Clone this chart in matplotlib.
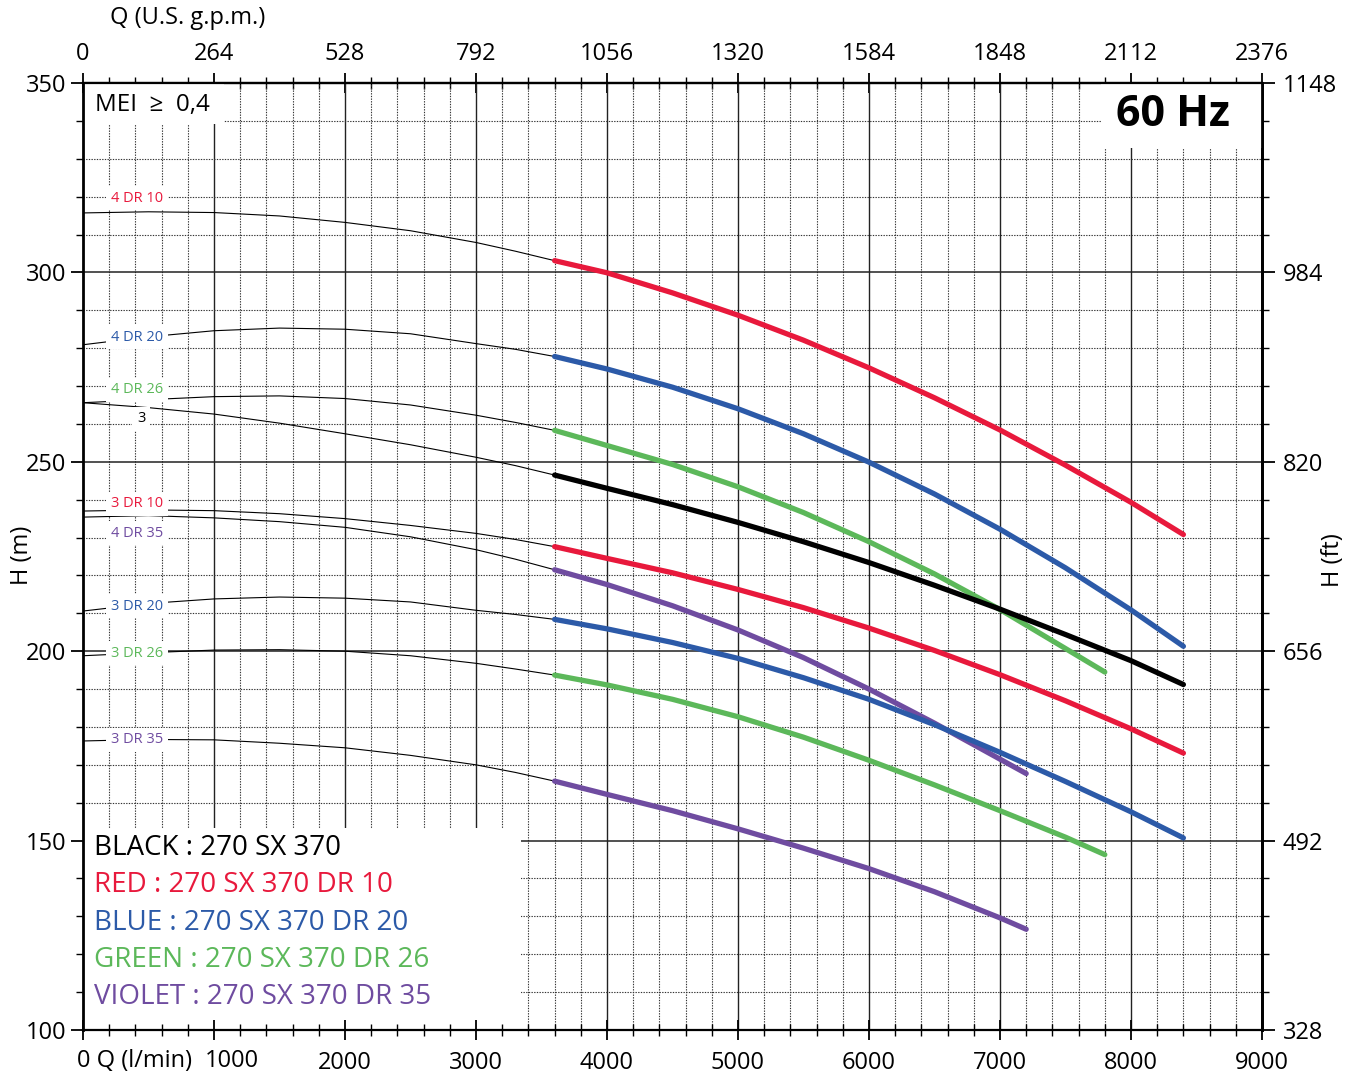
import numpy as np
import matplotlib.pyplot as plt
from matplotlib.ticker import MultipleLocator
from matplotlib.patches import Rectangle

plt.rcParams['font.family'] = ['Open Sans', 'DejaVu Sans']

# flow in l/min, head in m
q_thin = [0, 500, 1000, 1500, 2000, 2500, 3000, 3300, 3600]
q_end_8400 = [3600, 4000, 4500, 5000, 5500, 6000, 6500, 7000, 7500, 8000, 8400]
q_end_7800 = [3600, 4000, 4500, 5000, 5500, 6000, 6500, 7000, 7500, 7800]
q_end_7200 = [3600, 4000, 4500, 5000, 5500, 6000, 6500, 7000, 7200]

h_4dr10_thin = [315.7, 316.0, 315.8, 314.9, 313.2, 311.0, 307.9, 305.6, 303.1]
h_4dr10 = [303.1, 299.9, 294.6, 288.7, 282.1, 274.8, 266.9, 258.4, 249.1, 239.3, 230.8]
h_4dr20_thin = [280.9, 283.0, 284.6, 285.3, 285.0, 283.8, 281.2, 279.7, 277.8]
h_4dr20 = [277.8, 274.5, 269.7, 264.0, 257.4, 249.9, 241.5, 232.2, 222.0, 210.9, 201.3]
h_4dr26_thin = [265.6, 266.4, 267.2, 267.4, 266.7, 265.0, 262.3, 260.4, 258.3]
h_4dr26 = [258.3, 254.3, 249.3, 243.4, 236.6, 228.9, 220.4, 211.0, 200.7, 194.5]
h_3_thin = [265.6, 264.3, 262.6, 260.2, 257.4, 254.5, 251.2, 249.0, 246.5]
h_3 = [246.5, 243.0, 238.7, 234.0, 228.9, 223.4, 217.4, 211.1, 204.4, 197.5, 191.2]
h_3dr10_thin = [237.0, 237.3, 237.1, 236.3, 235.0, 233.2, 231.1, 229.5, 227.6]
h_3dr10 = [227.6, 224.5, 220.7, 216.3, 211.5, 206.1, 200.2, 193.8, 186.9, 179.5, 173.1]
h_4dr35_thin = [235.4, 235.8, 235.2, 234.2, 232.7, 230.2, 226.8, 224.3, 221.5]
h_4dr35 = [221.5, 217.6, 212.0, 205.6, 198.3, 190.0, 181.0, 171.5, 167.7]
h_3dr20_thin = [210.6, 212.6, 213.8, 214.3, 214.0, 213.0, 210.8, 209.7, 208.4]
h_3dr20 = [208.4, 205.9, 202.3, 198.1, 193.0, 187.3, 180.6, 173.3, 165.6, 157.6, 150.7]
h_3dr26_thin = [198.8, 199.6, 200.3, 200.4, 200.0, 198.8, 196.8, 195.3, 193.7]
h_3dr26 = [193.7, 191.1, 187.3, 182.7, 177.3, 171.2, 164.7, 157.9, 150.9, 146.3]
h_3dr35_thin = [176.3, 176.7, 176.6, 175.7, 174.5, 172.5, 170.0, 168.0, 165.7]
h_3dr35 = [165.7, 162.2, 157.9, 153.1, 148.0, 142.6, 136.5, 129.6, 126.6]

RED = '#e8193c'
BLUE = '#2c5aa8'
GREEN = '#5cb85a'
VIOLET = '#6f4ca0'
BLACK = '#000000'

curves = [
    (h_4dr10_thin, q_end_8400, h_4dr10, RED),
    (h_4dr20_thin, q_end_8400, h_4dr20, BLUE),
    (h_4dr26_thin, q_end_7800, h_4dr26, GREEN),
    (h_3_thin, q_end_8400, h_3, BLACK),
    (h_3dr10_thin, q_end_8400, h_3dr10, RED),
    (h_4dr35_thin, q_end_7200, h_4dr35, VIOLET),
    (h_3dr20_thin, q_end_8400, h_3dr20, BLUE),
    (h_3dr26_thin, q_end_7800, h_3dr26, GREEN),
    (h_3dr35_thin, q_end_7200, h_3dr35, VIOLET),
]

# curve tags near the H axis: text, Q, H, colour
tags = [
    ('4 DR 10', 412, 319.6, RED),
    ('4 DR 20', 412, 282.9, BLUE),
    ('4 DR 26', 412, 269.0, GREEN),
    ('3', 443, 261.3, BLACK),
    ('3 DR 10', 412, 238.9, RED),
    ('4 DR 35', 412, 231.2, VIOLET),
    ('3 DR 20', 412, 211.9, BLUE),
    ('3 DR 26', 412, 199.5, GREEN),
    ('3 DR 35', 412, 176.6, VIOLET),
]

legend_lines = [
    ('BLACK : 270 SX 370', BLACK),
    ('RED : 270 SX 370 DR 10', RED),
    ('BLUE : 270 SX 370 DR 20', BLUE),
    ('GREEN : 270 SX 370 DR 26', GREEN),
    ('VIOLET : 270 SX 370 DR 35', VIOLET),
]

gpm_labels = ['0', '264', '528', '792', '1056', '1320', '1584', '1848', '2112', '2376']
ft_labels = ['328', '492', '656', '820', '984', '1148']

W, H = 1354, 1074
fig = plt.figure(figsize=(W / 100, H / 100), dpi=100)
ax = fig.add_axes([83 / W, 1 - 1030 / H, (1262 - 83) / W, (1030 - 83) / H])
ax.set_xlim(0, 9000)
ax.set_ylim(100, 350)

# grid drawn by hand so that the white boxes can hide it but not the ticks
for x in np.arange(200, 9000, 200):
    if x % 1000 == 0:
        ax.axvline(x, color='#222222', lw=1.0, zorder=1)
    else:
        ax.axvline(x, color='#333333', lw=0.8, ls=(0, (1.2, 1.2)), zorder=1)
for y in np.arange(110, 350, 10):
    if y % 50 == 0:
        ax.axhline(y, color='#222222', lw=1.1, zorder=1)
    else:
        ax.axhline(y, color='#333333', lw=0.8, ls=(0, (1.2, 1.2)), zorder=1)

# white boxes behind MEI, 60 Hz and the legend (pixel corners)
for x0, y0, x1, y1 in [(83, 83, 224, 124), (1101, 83, 1262, 148), (83, 828, 521, 1030)]:
    ax.add_patch(Rectangle(((x0 - 83) / 1179, (1030 - y1) / 947), (x1 - x0) / 1179, (y1 - y0) / 947,
                           transform=ax.transAxes, facecolor='white', edgecolor='none', zorder=1.2))

for h_thin, q_thick, h_thick, col in curves:
    ax.plot(q_thin, h_thin, color='black', lw=0.8, zorder=3)
    ax.plot(q_thick, h_thick, color=col, lw=3.8, solid_capstyle='round', zorder=4)

for txt, q, h, col in tags:
    ax.text(q, h, txt, color=col, fontsize=10.5, ha='center', va='center', zorder=5,
            bbox=dict(facecolor='white', edgecolor='none', pad=3.5))

ax.text(92, 344.2, 'MEI  \u2265  0,4', fontsize=17.5, ha='left', va='center', zorder=5)
fig.text(1230 / W, 1 - 115 / H, '60 Hz', fontsize=31, fontweight='bold', ha='right', va='center')

for i, (txt, col) in enumerate(legend_lines):
    fig.text(94 / W, 1 - (848 + i * 37.3) / H, txt, color=col, fontsize=20, ha='left', va='center')

# axes and ticks
ax.set_xticks(np.arange(0, 9001, 1000))
ax.set_xticklabels(['', ''] + [str(v) for v in range(2000, 9001, 1000)])
ax.xaxis.set_minor_locator(MultipleLocator(200))
ax.set_yticks(np.arange(100, 351, 50))
ax.yaxis.set_minor_locator(MultipleLocator(10))
ax.tick_params(axis='x', which='major', direction='inout', length=14, width=1.3, labelsize=17, pad=8)
ax.tick_params(axis='x', which='minor', direction='inout', length=9, width=1.0)
ax.tick_params(axis='y', which='major', direction='out', length=9, width=1.3, labelsize=17, pad=3)
ax.tick_params(axis='y', which='minor', direction='out', length=5, width=1.0)
for side in ['left', 'right']:
    ax.spines[side].set_linewidth(2.0)
for side in ['top', 'bottom']:
    ax.spines[side].set_linewidth(1.6)

top = ax.secondary_xaxis('top')
top.set_xticks(np.arange(0, 9001, 1000))
top.set_xticklabels(gpm_labels)
top.xaxis.set_minor_locator(MultipleLocator(200))
top.tick_params(which='major', direction='inout', length=14, width=1.3, labelsize=17, pad=5)
top.tick_params(which='minor', direction='inout', length=9, width=1.0)

right = ax.secondary_yaxis('right')
right.set_yticks(np.arange(100, 351, 50))
right.set_yticklabels(ft_labels)
right.yaxis.set_minor_locator(MultipleLocator(10))
right.tick_params(which='major', direction='out', length=9, width=1.3, labelsize=17, pad=6)
right.tick_params(which='minor', direction='out', length=5, width=1.0)
right.spines['right'].set_linewidth(2.0)
top.spines['top'].set_linewidth(1.6)

fig.text(77 / W, 1 - 1061 / H, '0 Q (l/min)', fontsize=17, ha='left', va='center')
fig.text(232 / W, 1 - 1061 / H, '1000', fontsize=17, ha='center', va='center')
fig.text(110 / W, 1 - 18 / H, 'Q (U.S. g.p.m.)', fontsize=17, ha='left', va='center')
fig.text(22 / W, 1 - 555 / H, 'H (m)', fontsize=17, rotation=90, ha='center', va='center')
fig.text(1333 / W, 1 - 560 / H, 'H (ft)', fontsize=17, rotation=90, ha='center', va='center')

fig.savefig('out.png', dpi=100)
